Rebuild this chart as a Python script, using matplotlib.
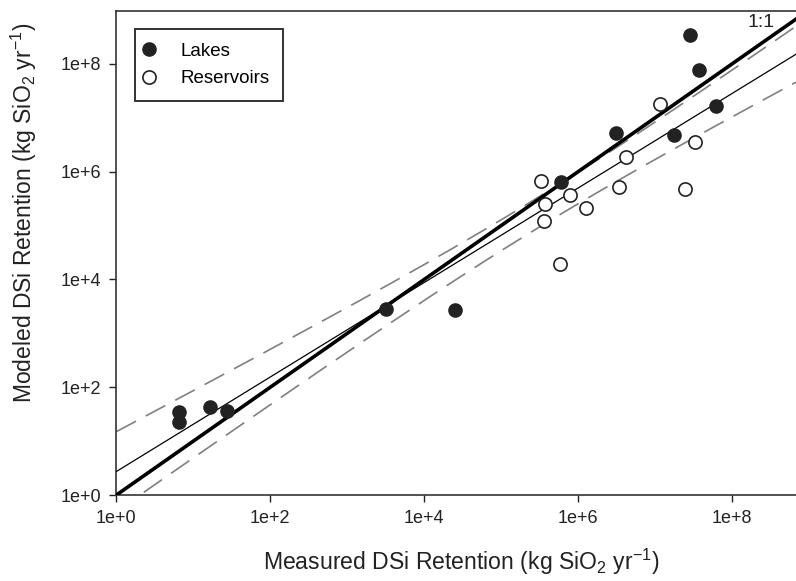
import numpy as np
import matplotlib
matplotlib.use("Agg")
from matplotlib import pyplot as plt

plt.rcParams['font.family'] = ['Liberation Sans', 'DejaVu Sans']
plt.rcParams['mathtext.fontset'] = 'custom'
plt.rcParams['mathtext.rm'] = 'Liberation Sans'
plt.rcParams['mathtext.it'] = 'Liberation Sans:italic'
plt.rcParams['lines.scale_dashes'] = False

# measured vs modeled DSi retention (kg SiO2 / yr)
lakes_measured = [6.56, 6.56, 16.4, 27.6, 3170, 24950, 5.9e5, 3.14e6,
                  1.78e7, 2.87e7, 3.68e7, 6.1e7]
lakes_modeled = [34.9, 22.8, 43.2, 36.4, 2870, 2670, 6.3e5, 5.2e6,
                 4.7e6, 3.5e8, 7.7e7, 1.65e7]

res_measured = [3.24e5, 3.68e5, 3.65e5, 5.77e5, 7.8e5, 1.26e6, 3.37e6,
                4.24e6, 1.17e7, 2.44e7, 3.3e7]
res_modeled = [6.7e5, 2.52e5, 1.24e5, 1.95e4, 3.64e5, 2.13e5, 5.3e5,
               1.84e6, 1.79e7, 4.8e5, 3.55e6]

tick_vals = [1e0, 1e2, 1e4, 1e6, 1e8]
tick_labels = ["1e+0", "1e+2", "1e+4", "1e+6", "1e+8"]

x_max = 10 ** 8.83
y_max = 10 ** 8.98

# log-log regression with 95% confidence band
lx = np.log10(np.array(lakes_measured + res_measured))
ly = np.log10(np.array(lakes_modeled + res_modeled))
n = len(lx)
slope, intercept = np.polyfit(lx, ly, 1)
resid = ly - (intercept + slope * lx)
s = np.sqrt(np.sum(resid ** 2) / (n - 2))
t_crit = 2.08
sxx = np.sum((lx - lx.mean()) ** 2)

gx = np.linspace(0, np.log10(x_max), 300)
fit = intercept + slope * gx
half = t_crit * s * np.sqrt(1.0 / n + (gx - lx.mean()) ** 2 / sxx)

fig = plt.figure(figsize=(7.96, 5.81), dpi=100)
ax = fig.add_axes([0.1462, 0.148, 0.8538, 0.833])

ink = '#222222'

ax.plot(10 ** gx, 10 ** gx, color='black', lw=2.6, zorder=3)
ax.plot(10 ** gx, 10 ** fit, color='black', lw=0.9, zorder=3)
ax.plot(10 ** gx, 10 ** (fit + half), color='#808080', lw=1.2,
        dashes=(16, 8), zorder=2)
ax.plot(10 ** gx, 10 ** (fit - half), color='#808080', lw=1.2,
        dashes=(16, 8), zorder=2)

ax.plot(lakes_measured, lakes_modeled, 'o', ms=9.5, color=ink,
        mec=ink, label='Lakes', zorder=4, ls='none')
ax.plot(res_measured, res_modeled, 'o', ms=9.5, mfc='white', mec=ink,
        mew=1.2, label='Reservoirs', zorder=4, ls='none')

ax.text(10 ** 8.37, 10 ** 8.76, "1:1", fontsize=14, color=ink,
        ha='center', va='center')

ax.set_xscale('log')
ax.set_yscale('log')
ax.set_xlim(1, x_max)
ax.set_ylim(1, y_max)
ax.set_xticks(tick_vals)
ax.set_xticklabels(tick_labels)
ax.set_yticks(tick_vals)
ax.set_yticklabels(tick_labels)
ax.minorticks_off()
ax.tick_params(labelsize=13, colors=ink, length=5, width=1.0, pad=6)

for side in ['left', 'bottom', 'top']:
    ax.spines[side].set_color('#333333')
    ax.spines[side].set_linewidth(1.2)
ax.spines['right'].set_visible(False)

ax.set_xlabel(r"Measured DSi Retention (kg SiO$_2$ yr$^{-1}$)",
              fontsize=16.6, color=ink)
ax.set_ylabel(r"Modeled DSi Retention (kg SiO$_2$ yr$^{-1}$)",
              fontsize=16.5, color=ink)
ax.xaxis.set_label_coords(0.508, -0.106)
ax.yaxis.set_label_coords(-0.114, 0.583)

leg = ax.legend(loc='upper left', bbox_to_anchor=(0.0274, 0.9628),
                borderaxespad=0, frameon=True, fancybox=False,
                fontsize=13.5, handletextpad=1.6, borderpad=0.72,
                labelspacing=0.55, handlelength=0.1)
leg.get_frame().set_edgecolor('black')
leg.get_frame().set_linewidth(1.4)

fig.savefig("out.png", dpi=100)
